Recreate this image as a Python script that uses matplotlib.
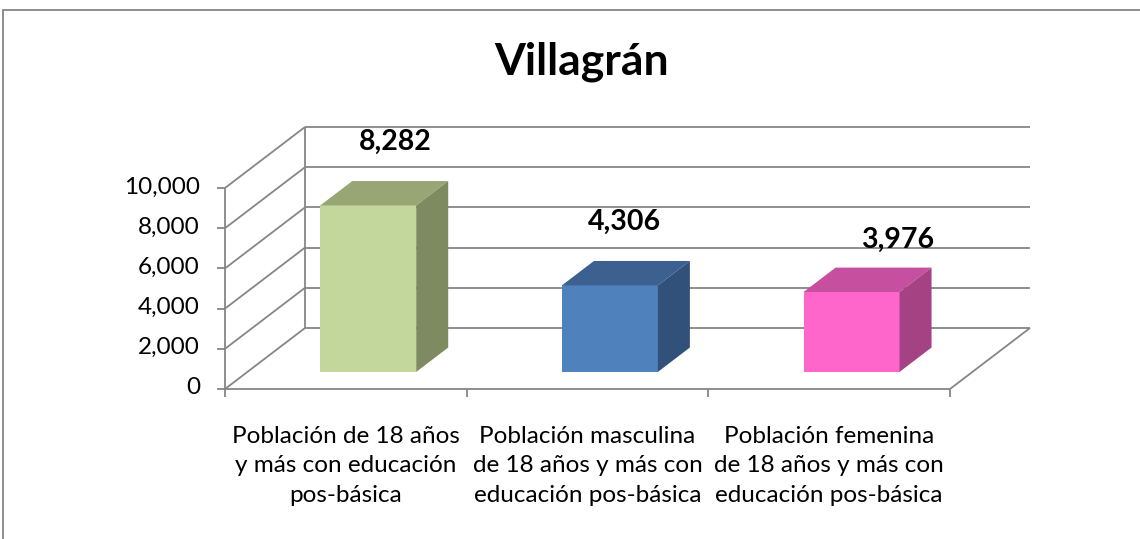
import matplotlib.pyplot as plt
from matplotlib.patches import Polygon, Rectangle

title = "Villagrán"
categories = ["Población de 18 años\ny más con educación\npos-básica",
              "Población masculina\nde 18 años y más con\neducación pos-básica",
              "Población femenina\nde 18 años y más con\neducación pos-básica"]
values = [8282, 4306, 3976]
y_ticks = [0, 2000, 4000, 6000, 8000, 10000]

front_colors = ["#C3D69B", "#4F81BD", "#FF66CC"]
top_colors = ["#98A676", "#3C6190", "#C64FA0"]
side_colors = ["#7E8A5F", "#31517B", "#A54284"]
label_offsets = [(-5, 39), (-17, 39), (14, 28)]   # pixels from bar top-back centre

plt.rcParams['font.family'] = ['Lato', 'DejaVu Sans']

W, H = 1140, 539
fig = plt.figure(figsize=(W / 100, H / 100), dpi=100)
ax = fig.add_axes([0, 0, 1, 1])
ax.set_axis_off()

# pixel mapping of the front plane: x in categories, y in values
px_cat = 241.67
px_val = 0.0201
x0_px, y0_px = 225, 389
ax.set_xlim(-x0_px / px_cat, (W - x0_px) / px_cat)
ax.set_ylim(-(H - y0_px) / px_val, y0_px / px_val)

# oblique depth offset of the full floor
DX = 80 / px_cat
DY = 61 / px_val
n = len(categories)
ymax = y_ticks[-1]
grid = dict(color="#868686", lw=1.3, solid_capstyle="butt", zorder=1)

# back wall gridlines and left wall diagonals
for v in y_ticks:
    ax.plot([DX, n + DX], [v + DY, v + DY], **grid)
    ax.plot([0, DX], [v, v + DY], **grid)
    ax.plot([-0.033, 0], [v, v], **grid)
ax.plot([DX, DX], [DY, ymax + DY], **grid)
ax.plot([0, 0], [0, ymax], **grid)
# floor
ax.plot([0, n], [0, 0], **grid)
ax.plot([n, n + DX], [0, DY], **grid)
for i in range(n + 1):
    ax.plot([i, i], [0, -400], **grid)

# 3D bars
w = 0.397
d0, dd = 0.28, 0.40
for i, v in enumerate(values):
    xl = i + (1 - w) / 2 + d0 * DX
    xr = xl + w
    yb = d0 * DY
    yt = yb + v
    ox, oy = dd * DX, dd * DY
    ax.add_patch(Polygon([(xl, yb), (xr, yb), (xr, yt), (xl, yt)],
                         closed=True, fc=front_colors[i], ec="none", zorder=3))
    ax.add_patch(Polygon([(xl, yt), (xr, yt), (xr + ox, yt + oy), (xl + ox, yt + oy)],
                         closed=True, fc=top_colors[i], ec="none", zorder=3))
    ax.add_patch(Polygon([(xr, yb), (xr + ox, yb + oy), (xr + ox, yt + oy), (xr, yt)],
                         closed=True, fc=side_colors[i], ec="none", zorder=3))
    ax.annotate(f"{v:,}", xy=((xl + xr) / 2 + ox, yt + oy), xytext=label_offsets[i],
                textcoords="offset pixels", ha="center", va="center",
                fontsize=20.5, fontweight="bold", zorder=5)

# tick labels
for v in y_ticks:
    ax.annotate(f"{v:,}", xy=(0, v), xytext=(-25, 1), textcoords="offset pixels",
                ha="right", va="center", fontsize=17.5)
for i, c in enumerate(categories):
    ax.annotate(c, xy=(i + 0.5, 0), xytext=(0, -37), textcoords="offset pixels",
                ha="center", va="top", fontsize=17.5, linespacing=1.5)

ax.text(582 / W, 1 - 62 / H, title, transform=ax.transAxes, ha="center", va="center",
        fontsize=32, fontweight="bold")

# chart area border
fig.patches.append(Rectangle((3 / W, -0.1), 1.2, 1 - 10 / H + 0.1, transform=fig.transFigure,
                             fill=False, ec="#868686", lw=1.3))

fig.savefig("out.png", dpi=100)
